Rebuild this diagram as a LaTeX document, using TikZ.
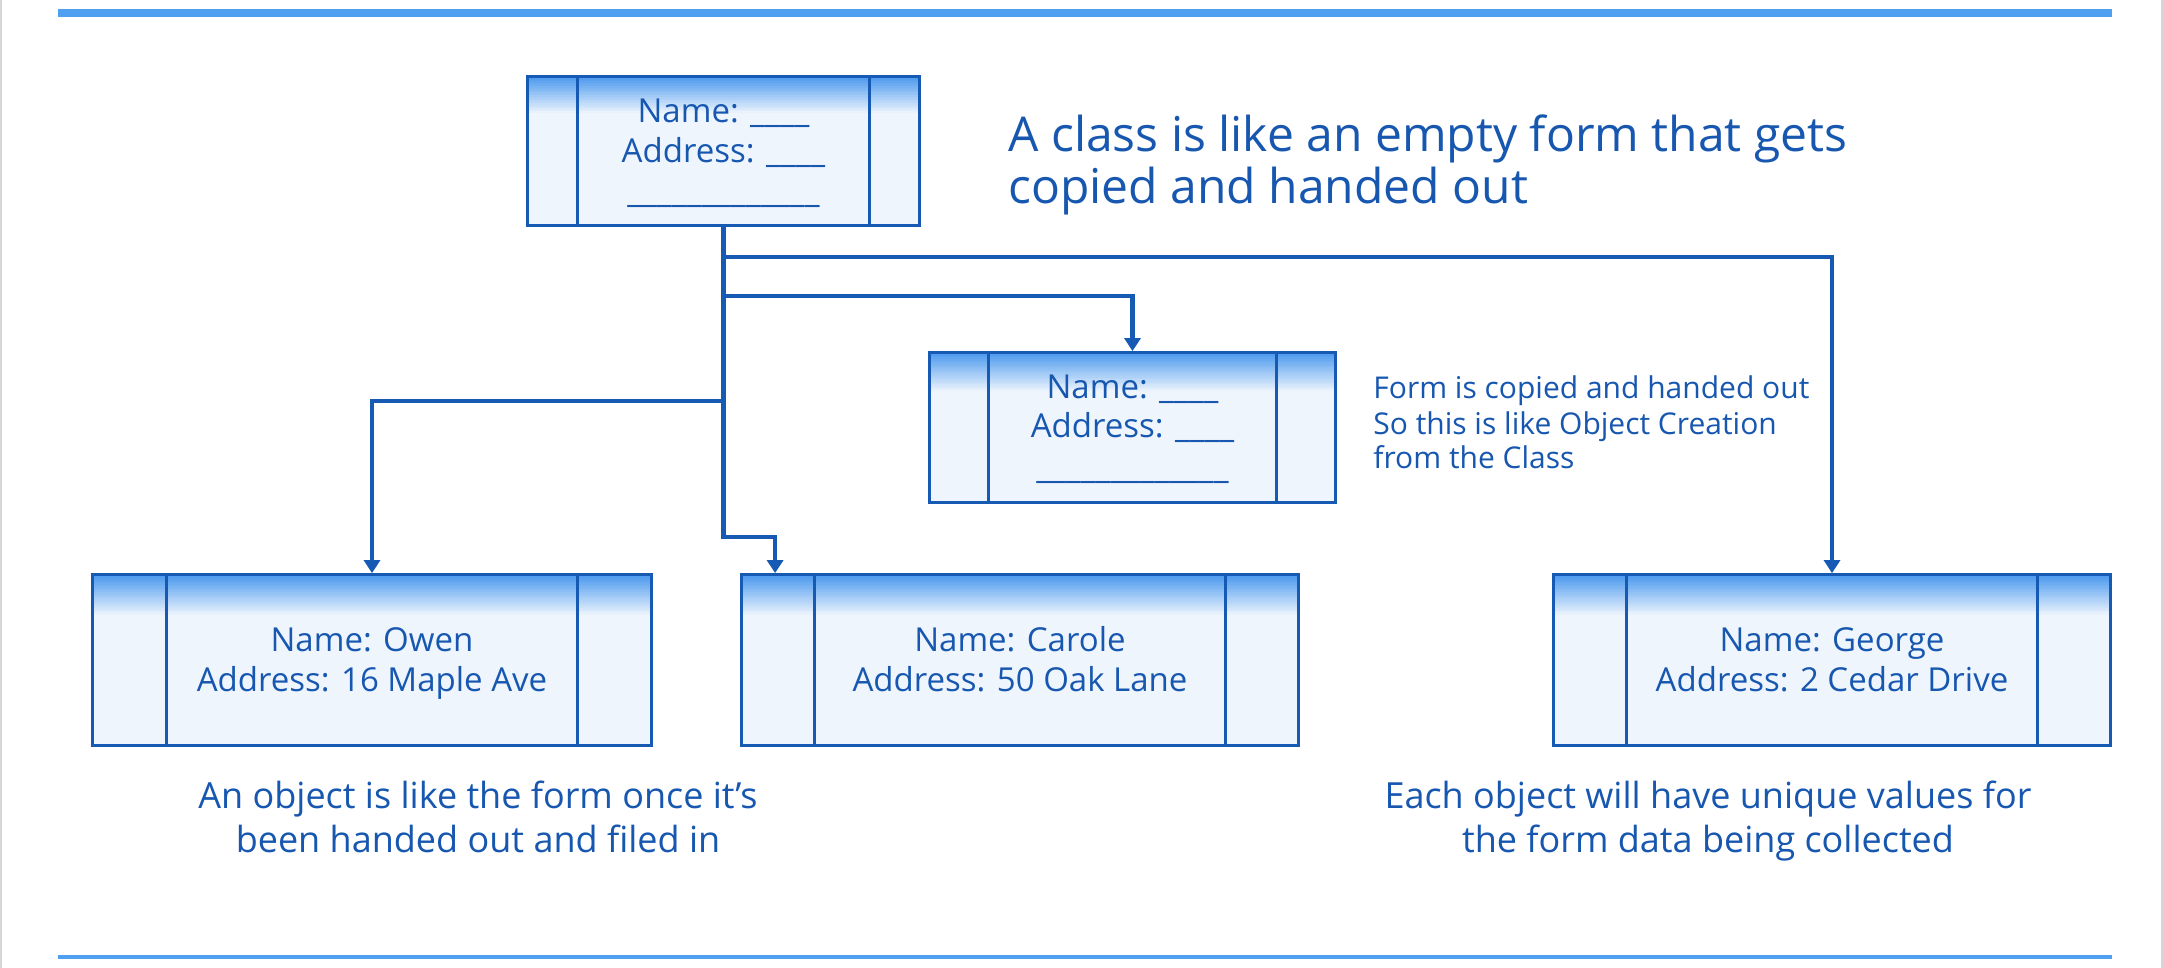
\documentclass[tikz,border=0pt]{standalone}
\usepackage{fontspec}
\setmainfont{Open Sans}
\usetikzlibrary{arrows.meta,calc}
\definecolor{boxblue}{HTML}{165AB4}
\definecolor{txtblue}{HTML}{1757B0}
\definecolor{gradtop}{HTML}{4A98EE}
\definecolor{gradlow}{HTML}{EEF5FD}
\definecolor{rulblue}{HTML}{4FA0F0}
\definecolor{framegray}{HTML}{D6D6D6}
\newcommand{\rowsC}[1]{\begin{tabular}[t]{@{}c@{}}#1\end{tabular}}
\newcommand{\rowsL}[1]{\begin{tabular}[t]{@{}l@{}}#1\end{tabular}}
\begin{document}
\begin{tikzpicture}[x=0.5pt,y=-0.5pt,
  formbox/.style n args={4}{rectangle, draw=boxblue, line width=1.4pt, fill=gradlow,
    inner sep=0pt, minimum width=#1, minimum height=#2,
    path picture={
      \foreach \i in {0,...,23}{
        \pgfmathtruncatemacro\pc{100-100*\i/23}
        \pgfmathsetlengthmacro\ya{\i*#4/24}
        \pgfmathsetlengthmacro\yb{(\i+1.4)*#4/24}
        \fill[gradtop!\pc!gradlow]
          ([yshift=-\ya]path picture bounding box.north west) rectangle
          ([yshift=-\yb]path picture bounding box.north east);
      }
      \draw[boxblue, line width=1.4pt]
        ([xshift=#3]path picture bounding box.north west) -- ([xshift=#3]path picture bounding box.south west)
        ([xshift=-#3]path picture bounding box.north east) -- ([xshift=-#3]path picture bounding box.south east);
    }},
  boxtext/.style={anchor=base, inner sep=0pt, text=txtblue, font=\fontsize{16.5pt}{20pt}\selectfont},
  bigtext/.style={anchor=base west, inner sep=0pt, text=txtblue, font=\fontsize{24pt}{25pt}\selectfont},
  notetext/.style={anchor=base west, inner sep=0pt, text=txtblue, font=\fontsize{15pt}{17.5pt}\selectfont},
  captext/.style={anchor=base, inner sep=0pt, text=txtblue, font=\fontsize{18pt}{22pt}\selectfont},
  conn/.style={draw=boxblue, line width=2.15pt},
  arr/.style={conn, -{Triangle[width=8pt,length=6.5pt]}},
  rule/.style={draw=rulblue}
]
\useasboundingbox (0,0) rectangle (2164,968);
\fill[white] (0,0) rectangle (2164,968);
% frame edges
\fill[framegray] (0,0) rectangle (2,968);
\fill[framegray] (2161,0) rectangle (2164,968);
\draw[rule, line width=4pt] (58,13.5) -- (2112,13.5);
\draw[rule, line width=2pt] (58,956.5) -- (2112,956.5);

% form boxes
\node[formbox={196pt}{74.5pt}{25pt}{19pt}] (cls) at (723.5,151) {};
\node[formbox={203pt}{75pt}{29.5pt}{20pt}] (mid) at (1132.5,427.5) {};
\node[formbox={279.5pt}{85.5pt}{37pt}{21pt}] (owen) at (372,660) {};
\node[formbox={278.5pt}{85.5pt}{36.5pt}{21pt}] (carole) at (1020,660) {};
\node[formbox={278.5pt}{85.5pt}{36.5pt}{21pt}] (george) at (1832,660) {};

% box texts
\node[boxtext] (clsT) at (723.5,122.7) {\rowsC{Name: \_\_\_\_\\Address: \_\_\_\_\\\_\_\_\_\_\_\_\_\_\_\_\_\_}};
\node[boxtext] (midT) at (1132.5,398) {\rowsC{Name: \_\_\_\_\\Address: \_\_\_\_\\\_\_\_\_\_\_\_\_\_\_\_\_\_}};
\node[boxtext] (owenT) at (372,651.7) {\rowsC{Name: Owen\\Address: 16 Maple Ave}};
\node[boxtext] (caroleT) at (1020,651.7) {\rowsC{Name: Carole\\Address: 50 Oak Lane}};
\node[boxtext] (georgeT) at (1832,651.7) {\rowsC{Name: George\\Address: 2 Cedar Drive}};

% annotations
\node[bigtext] (headT) at (1008,151.7) {\rowsL{A class is like an empty form that gets\\copied and handed out}};
\node[notetext] (noteT) at (1373,399) {\rowsL{Form is copied and handed out\\So this is like Object Creation\\from the Class}};
\node[captext] (capL) at (478,808) {\rowsC{An object is like the form once it’s\\been handed out and filed in}};
\node[captext] (capR) at (1708,808) {\rowsC{Each object will have unique values for\\the form data being collected}};

% connectors
\coordinate (jG) at (cls.south |- 0,256.7);
\coordinate (jM) at (cls.south |- 0,296);
\coordinate (jO) at (cls.south |- 0,400.7);
\coordinate (jC) at (cls.south |- 0,536.7);
\coordinate (caroleIn) at ($(carole.north west)+(35,0)$);
\draw[arr] (cls.south) -- (jG) -| (george.north);
\draw[arr] (cls.south) -- (jM) -| (mid.north);
\draw[arr] (cls.south) -- (jO) -| (owen.north);
\draw[arr] (cls.south) -- (jC) -| (caroleIn);
\end{tikzpicture}
\end{document}
